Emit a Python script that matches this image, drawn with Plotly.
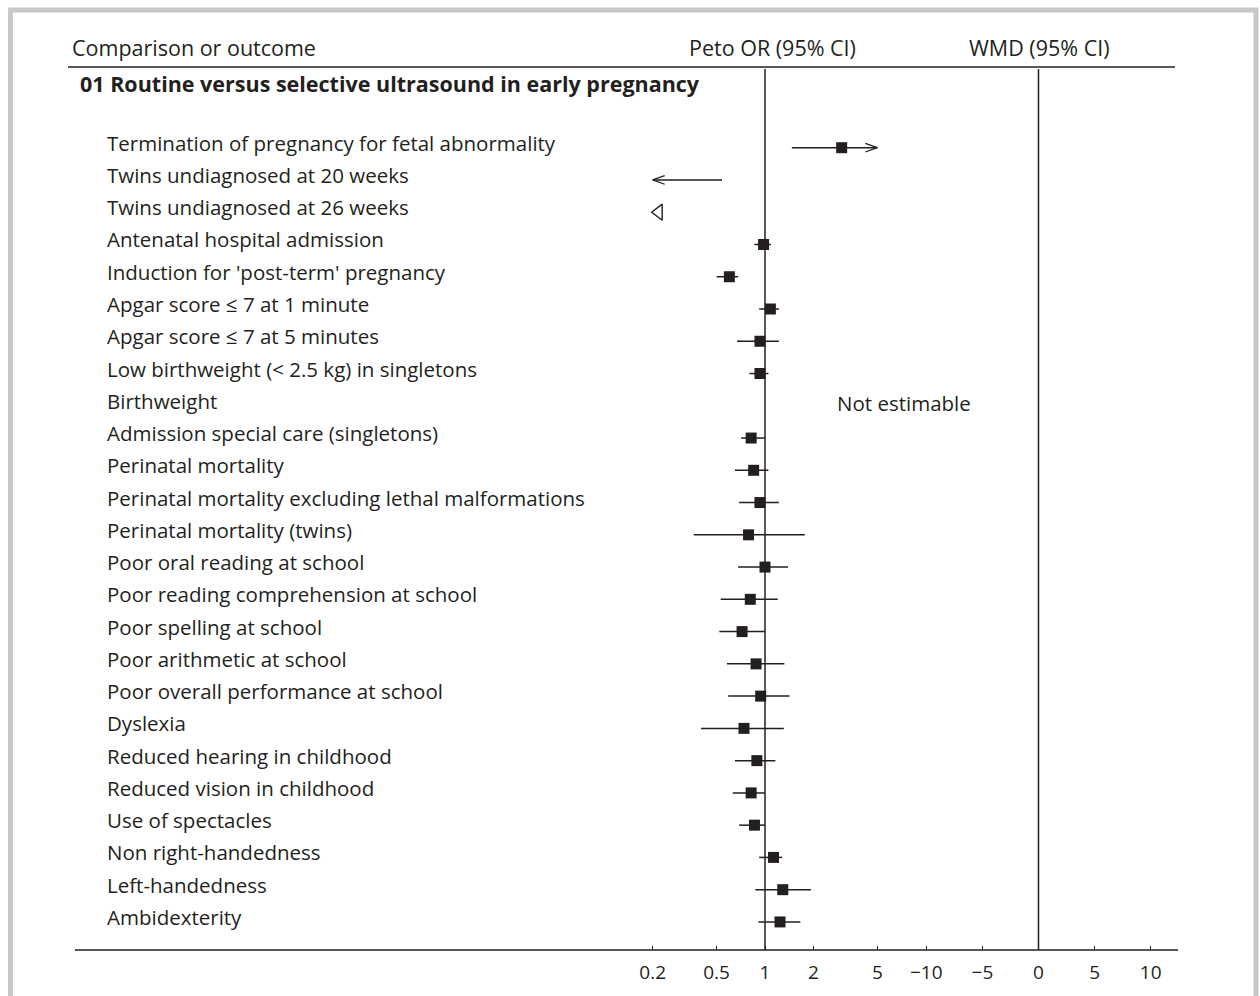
import plotly.graph_objects as go

# ---- data -----------------------------------------------------------------
outcomes = [
    "Termination of pregnancy for fetal abnormality",
    "Twins undiagnosed at 20 weeks",
    "Twins undiagnosed at 26 weeks",
    "Antenatal hospital admission",
    "Induction for 'post-term' pregnancy",
    "Apgar score \u2264 7 at 1 minute",
    "Apgar score \u2264 7 at 5 minutes",
    "Low birthweight (< 2.5 kg) in singletons",
    "Birthweight",
    "Admission special care (singletons)",
    "Perinatal mortality",
    "Perinatal mortality excluding lethal malformations",
    "Perinatal mortality (twins)",
    "Poor oral reading at school",
    "Poor reading comprehension at school",
    "Poor spelling at school",
    "Poor arithmetic at school",
    "Poor overall performance at school",
    "Dyslexia",
    "Reduced hearing in childhood",
    "Reduced vision in childhood",
    "Use of spectacles",
    "Non right-handedness",
    "Left-handedness",
    "Ambidexterity",
]
peto_or = [3.00, 0.12, 0.08, 0.98, 0.60, 1.08, 0.93, 0.93, None, 0.82, 0.85, 0.93, 0.79,
           1.00, 0.81, 0.72, 0.88, 0.94, 0.74, 0.89, 0.82, 0.86, 1.13, 1.29, 1.24]
ci_low = [1.47, 0.03, 0.04, 0.86, 0.50, 0.92, 0.67, 0.80, None, 0.71, 0.65, 0.69, 0.36,
          0.68, 0.53, 0.52, 0.58, 0.59, 0.40, 0.65, 0.63, 0.69, 0.92, 0.87, 0.91]
ci_high = [6.90, 0.54, 0.16, 1.09, 0.68, 1.22, 1.22, 1.05, None, 1.00, 1.05, 1.22, 1.77,
           1.39, 1.20, 1.00, 1.32, 1.42, 1.31, 1.16, 1.00, 1.00, 1.28, 1.93, 1.66]
wmd_notes = {"Birthweight": "Not estimable"}

section_title = "01 Routine versus selective ultrasound in early pregnancy"
or_ticks = [0.2, 0.5, 1, 2, 5]
or_tick_labels = ["0.2", "0.5", "1", "2", "5"]
wmd_ticks = [-10, -5, 0, 5, 10]
wmd_tick_labels = ["\u221210", "\u22125", "0", "5", "10"]
OR_MIN, OR_MAX = 0.2, 5.0

# ---- geometry (pixels on a 1260 x 996 page) -------------------------------
W, H = 1260, 996
FONT = "Open Sans"
FS = 20.5
FS_HEAD = 21.5
INK = "#231f20"

OR_ONE_PX, OR_DECADE_PX = 765.0, 160.7
OR_DOM = (630.0, 900.0)
WMD_ZERO_PX, WMD_UNIT_PX = 1038.5, 11.22
WMD_DOM = (905.0, 1178.0)
ROW0_PX, ROW_PX = 147.7, 32.26
AXIS_PX = 950.0
HEADER_LINE_PX = 67.0


def px(x):
    return x / W


def py(y):
    return 1 - y / H


def row_of(ypix):
    return (ypix - ROW0_PX) / ROW_PX


or_range = [(OR_DOM[0] - OR_ONE_PX) / OR_DECADE_PX, (OR_DOM[1] - OR_ONE_PX) / OR_DECADE_PX]
wmd_range = [(WMD_DOM[0] - WMD_ZERO_PX) / WMD_UNIT_PX, (WMD_DOM[1] - WMD_ZERO_PX) / WMD_UNIT_PX]
y_range = [row_of(H), row_of(0)]

fig = go.Figure()

# reference lines (OR = 1, WMD = 0)
top_row, bottom_row = row_of(HEADER_LINE_PX + 2), row_of(AXIS_PX)
fig.add_trace(go.Scatter(x=[1, 1], y=[top_row, bottom_row], mode="lines",
                         line=dict(color=INK, width=1.5), xaxis="x", yaxis="y"))
fig.add_trace(go.Scatter(x=[0, 0], y=[top_row, bottom_row], mode="lines",
                         line=dict(color=INK, width=1.5), xaxis="x2", yaxis="y"))

# confidence intervals, clipped to the displayed OR range
ci_x, ci_y = [], []
chev_x, chev_y = [], []
tri_x, tri_y = [], []
pt_x, pt_y = [], []
chev_len = 12 / OR_DECADE_PX
chev_half = 4.3 / ROW_PX
for i, (est, lo, hi) in enumerate(zip(peto_or, ci_low, ci_high)):
    if est is None:
        continue
    if hi < OR_MIN:
        tri_x.append(OR_MIN * 10 ** (6 / OR_DECADE_PX))
        tri_y.append(i)
        continue
    a, b = max(lo, OR_MIN), min(hi, OR_MAX)
    ci_x += [a, b, None]
    ci_y += [i, i, None]
    if lo < OR_MIN:
        back = OR_MIN * 10 ** chev_len
        chev_x += [back, OR_MIN, back, None]
        chev_y += [i - chev_half, i, i + chev_half, None]
    if hi > OR_MAX:
        back = OR_MAX / 10 ** chev_len
        chev_x += [back, OR_MAX, back, None]
        chev_y += [i - chev_half, i, i + chev_half, None]
    if OR_MIN <= est <= OR_MAX:
        pt_x.append(est)
        pt_y.append(i)

fig.add_trace(go.Scatter(x=ci_x, y=ci_y, mode="lines",
                         line=dict(color=INK, width=1.5), xaxis="x", yaxis="y"))
fig.add_trace(go.Scatter(x=chev_x, y=chev_y, mode="lines",
                         line=dict(color=INK, width=1.3), xaxis="x", yaxis="y"))
fig.add_trace(go.Scatter(x=tri_x, y=tri_y, mode="markers",
                         marker=dict(symbol="triangle-left-open", size=14,
                                     color=INK, line=dict(width=1.4, color=INK)),
                         xaxis="x", yaxis="y"))
fig.add_trace(go.Scatter(x=pt_x, y=pt_y, mode="markers",
                         marker=dict(symbol="square", size=11, color=INK,
                                     line=dict(width=0)),
                         xaxis="x", yaxis="y"))

# ---- text -----------------------------------------------------------------
ann = []
for i, name in enumerate(outcomes):
    ann.append(dict(x=px(105), y=i, xref="paper", yref="y", text=name,
                    xanchor="left", yanchor="middle", showarrow=False, yshift=5,
                    font=dict(family=FONT, size=FS, color=INK)))
    if name in wmd_notes:
        ann.append(dict(x=px(835), y=i, xref="paper", yref="y", text=wmd_notes[name],
                        xanchor="left", yanchor="middle", showarrow=False, yshift=3,
                        font=dict(family=FONT, size=FS, color=INK)))

ann.append(dict(x=px(70), y=py(47), xref="paper", yref="paper", text="Comparison or outcome",
                xanchor="left", yanchor="middle", showarrow=False,
                font=dict(family=FONT, size=FS_HEAD, color=INK)))
ann.append(dict(x=px(772), y=py(47), xref="paper", yref="paper", text="Peto OR (95% CI)",
                xanchor="center", yanchor="middle", showarrow=False,
                font=dict(family=FONT, size=FS_HEAD, color=INK)))
ann.append(dict(x=px(1039), y=py(47), xref="paper", yref="paper", text="WMD (95% CI)",
                xanchor="center", yanchor="middle", showarrow=False,
                font=dict(family=FONT, size=FS_HEAD, color=INK)))
ann.append(dict(x=px(78), y=py(84), xref="paper", yref="paper", text="<b>" + section_title + "</b>",
                xanchor="left", yanchor="middle", showarrow=False,
                font=dict(family=FONT, size=FS_HEAD, color=INK)))

shapes = [
    # outer frame
    dict(type="rect", xref="paper", yref="paper", x0=px(10.5), x1=px(1256), y0=py(1020), y1=py(10),
         line=dict(color="#c8c8c8", width=5), fillcolor="rgba(0,0,0,0)"),
    # header rule
    dict(type="line", xref="paper", yref="paper", x0=px(68), x1=px(1175),
         y0=py(HEADER_LINE_PX), y1=py(HEADER_LINE_PX), line=dict(color=INK, width=1.5)),
    # bottom axis rule
    dict(type="line", xref="paper", yref="paper", x0=px(75), x1=px(1178),
         y0=py(AXIS_PX), y1=py(AXIS_PX), line=dict(color=INK, width=1.5)),
]

axis_common = dict(showgrid=False, zeroline=False, showline=False, ticks="inside",
                   ticklen=4, tickwidth=1.3, tickcolor=INK, anchor="free",
                   position=py(AXIS_PX), fixedrange=True, ticklabelstandoff=9,
                   tickfont=dict(family=FONT, size=19, color=INK))

fig.update_layout(
    width=W, height=H,
    margin=dict(l=0, r=0, t=0, b=0),
    paper_bgcolor="white", plot_bgcolor="rgba(0,0,0,0)",
    showlegend=False, hovermode=False,
    xaxis=dict(type="log", domain=[px(OR_DOM[0]), px(OR_DOM[1])], range=or_range,
               tickvals=or_ticks, ticktext=or_tick_labels, **axis_common),
    xaxis2=dict(type="linear", domain=[px(WMD_DOM[0]), px(WMD_DOM[1])], range=wmd_range,
                tickvals=wmd_ticks, ticktext=wmd_tick_labels, **axis_common),
    yaxis=dict(range=y_range, visible=False, domain=[0, 1], fixedrange=True),
    annotations=ann,
    shapes=shapes,
)

fig.write_html("out.html")
